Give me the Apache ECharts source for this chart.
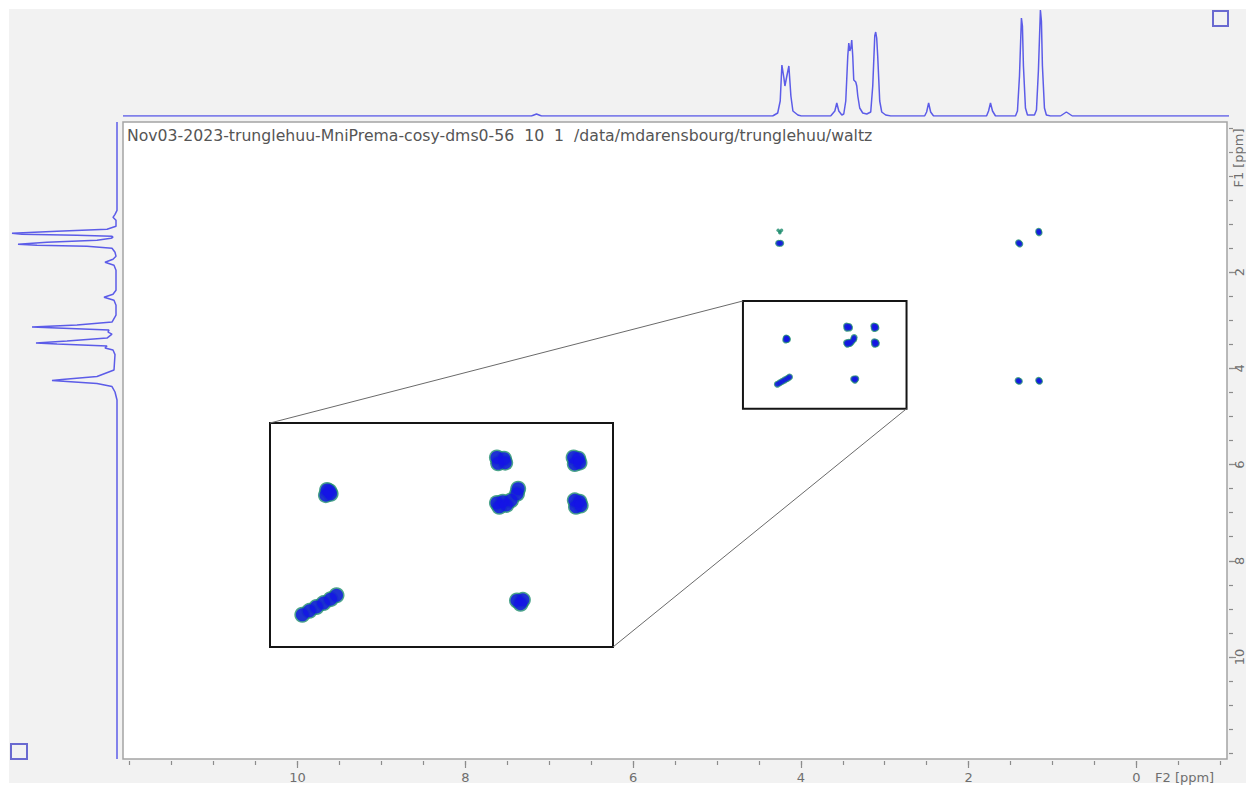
<!DOCTYPE html>
<html><head><meta charset="utf-8">
<script src="https://cdn.jsdelivr.net/npm/echarts@6/dist/echarts.min.js"></script>
<style>html,body{margin:0;padding:0;background:#fff;} #c{width:1246px;height:786px;}</style>
</head><body><div id="c"></div>
<script>
// ---------- data ----------
const titleText = 'Nov03-2023-trunglehuu-MniPrema-cosy-dms0-56  10  1  /data/mdarensbourg/trunglehuu/waltz';
const f2AxisName = 'F2 [ppm]';
const f1AxisName = 'F1 [ppm]';
const f2Range = [-1.08, 12.08];
const f1Range = [-1.12, 12.12];
const f2MajorTicks = [0, 2, 4, 6, 8, 10];
const f1MajorTicks = [2, 4, 6, 8, 10];
const minorTicks = [-1, -0.5, 0, 0.5, 1, 1.5, 2, 2.5, 3, 3.5, 4, 4.5, 5, 5.5, 6, 6.5, 7, 7.5, 8, 8.5, 9, 9.5, 10, 10.5, 11, 11.5, 12];

// F2 (top) projection: [ppm, intensity]
const f2Projection = [
  [12.08,0],[7.22,0],[7.16,2],[7.10,0],
  [4.35,0],[4.29,3],[4.26,15],[4.24,51],[4.216,38],[4.204,30],[4.181,40],[4.157,50],[4.133,20],[4.109,5],[4.05,1],[4.01,0],
  [3.66,0],[3.61,5],[3.587,13],[3.563,5],[3.527,1],
  [3.504,2],[3.48,15],[3.456,60],[3.444,73],[3.432,65],[3.42,68],[3.409,76],[3.397,60],[3.385,36],[3.361,34],[3.349,30],[3.337,20],[3.314,8],[3.278,3],[3.23,2],[3.183,4],[3.159,30],[3.135,80],[3.124,84],[3.112,78],[3.10,60],[3.076,15],[3.052,4],[3.005,1],[2.945,0],
  [2.542,0],[2.518,4],[2.494,13],[2.47,4],[2.435,0],
  [1.805,0],[1.781,5],[1.758,13],[1.734,5],[1.698,0],
  [1.461,0],[1.437,5],[1.413,40],[1.39,98],[1.378,90],[1.366,50],[1.342,8],[1.318,1],
  [1.235,1],[1.211,6],[1.188,45],[1.164,106],[1.152,95],[1.14,50],[1.116,8],[1.093,1],[1.045,0],
  [0.926,0],[0.855,4],[0.784,0],
  [-1.08,0]
];

// F1 (left) projection: [ppm, intensity]
const f1Projection = [
  [-1.12,0],[0.716,0],[0.799,2],[0.861,4],[0.923,1],[1.048,1],[1.11,10],[1.151,60],[1.193,105],[1.214,95],[1.234,40],[1.255,5],[1.276,4],[1.297,6],[1.338,20],[1.38,70],[1.421,99],[1.442,80],[1.463,30],[1.504,5],[1.587,2],[1.67,1],[1.732,4],[1.795,12],[1.857,3],[1.961,1],
  [2.376,1],[2.459,4],[2.521,13],[2.583,3],[2.687,1],[2.894,1],[3.039,5],[3.101,40],[3.143,85],[3.164,60],[3.205,8],[3.247,9],[3.288,5],[3.371,10],[3.434,50],[3.475,81],[3.496,60],[3.537,10],[3.579,12],[3.62,4],[3.714,2],
  [4.035,3],[4.17,20],[4.232,55],[4.253,65],[4.274,50],[4.315,20],[4.378,5],[4.492,2],[4.658,0],[12.12,0]
];

// COSY contour blobs: [F2 ppm, F1 ppm]
const crossPeaks = [
  [4.175,3.37],[4.16,3.40],[4.18,3.41],[4.165,3.38],
  [3.455,3.12],[3.425,3.13],[3.45,3.165],[3.42,3.16],
  [3.13,3.12],[3.11,3.13],[3.125,3.17],[3.105,3.16],
  [3.455,3.47],[3.43,3.46],[3.445,3.50],[3.415,3.485],[3.395,3.45],[3.37,3.40],[3.365,3.36],
  [3.125,3.45],[3.105,3.46],[3.12,3.50],[3.10,3.49],
  [4.28,4.33],[4.25,4.30],[4.22,4.27],[4.19,4.24],[4.16,4.21],[4.135,4.18],
  [3.37,4.22],[3.355,4.245],[3.345,4.215],
  [4.265,1.40],[4.24,1.40],
  [1.405,1.39],[1.39,1.415],
  [1.165,1.15],[1.16,1.18],
  [1.41,4.255],[1.395,4.27],
  [1.165,4.25],[1.155,4.27]
];
const weakPeaks = [[4.27,1.13],[4.25,1.16],[4.23,1.13],[4.25,1.18]];

// zoom region marked on the spectrum and the range shown in the inset
const zoomBoxF2 = [4.69, 2.74];
const zoomBoxF1 = [2.60, 4.84];
const insetF2 = [2.963, 4.417];
const insetF1 = [2.855, 4.578];

// ---------- chart ----------
const BLUE = '#1414e6', GREEN = '#1e8c6e', SPEC = '#5c5ce8';
const FONT = 'DejaVu Sans';
const chart = echarts.init(document.getElementById('c'), null, {renderer: 'svg', width: 1246, height: 786});

const hidden = {show: false};
const noLine = {show: false, onZero: false};
function hiddenAxis(grid, min, max, inverse) {
  return {gridIndex: grid, type: 'value', min: min, max: max, inverse: inverse, show: false, splitLine: hidden, axisLine: noLine};
}
const tickStyle = {color: '#8c8c8c', width: 1.2};

const option = {
  animation: false,
  backgroundColor: '#ffffff',
  grid: [
    {left: 123, top: 122, width: 1106, height: 637, show: true, backgroundColor: '#ffffff', borderColor: '#a4a4a4', borderWidth: 1.5},
    {left: 123, top: 10, width: 1106, height: 106, show: false},
    {left: 9, top: 122, width: 108, height: 637, show: false},
    {left: 270, top: 423, width: 343, height: 224, show: true, backgroundColor: '#ffffff', borderColor: '#151515', borderWidth: 2, z: 3}
  ],
  xAxis: [
    {gridIndex: 0, type: 'value', min: f2Range[0], max: f2Range[1], inverse: true, position: 'bottom', offset: 2,
      axisLine: noLine, splitLine: hidden, axisLabel: hidden,
      axisTick: {show: true, customValues: minorTicks, length: 4, lineStyle: tickStyle}},
    {gridIndex: 0, type: 'value', min: f2Range[0], max: f2Range[1], inverse: true, position: 'bottom', offset: 2,
      axisLine: noLine, splitLine: hidden,
      axisTick: {show: true, customValues: f2MajorTicks, length: 7, lineStyle: tickStyle},
      axisLabel: {show: true, customValues: f2MajorTicks, color: '#6e6e6e', fontSize: 13, fontFamily: FONT, margin: 10}},
    hiddenAxis(1, f2Range[0], f2Range[1], true),
    hiddenAxis(2, 0, 108, true),
    hiddenAxis(3, insetF2[0], insetF2[1], true)
  ],
  yAxis: [
    {gridIndex: 0, type: 'value', min: f1Range[0], max: f1Range[1], inverse: true, position: 'right', offset: 2,
      axisLine: noLine, splitLine: hidden, axisLabel: hidden,
      axisTick: {show: true, customValues: minorTicks, length: 4, lineStyle: tickStyle}},
    {gridIndex: 0, type: 'value', min: f1Range[0], max: f1Range[1], inverse: true, position: 'right', offset: 2,
      axisLine: noLine, splitLine: hidden,
      axisTick: {show: true, customValues: f1MajorTicks, length: 7, lineStyle: tickStyle},
      axisLabel: {show: true, customValues: f1MajorTicks, rotate: 90, color: '#6e6e6e', fontSize: 13, fontFamily: FONT, margin: 4}},
    hiddenAxis(1, 0, 106, false),
    hiddenAxis(2, f1Range[0], f1Range[1], true),
    hiddenAxis(3, insetF1[0], insetF1[1], true)
  ],
  series: [
    {type: 'line', xAxisIndex: 2, yAxisIndex: 2, data: f2Projection, showSymbol: false, symbol: 'none',
      lineStyle: {color: SPEC, width: 1.5}, silent: true},
    {type: 'line', xAxisIndex: 3, yAxisIndex: 3, data: f1Projection.map(p => [p[1], p[0]]), showSymbol: false, symbol: 'none',
      lineStyle: {color: SPEC, width: 1.5}, silent: true},
    {type: 'scatter', xAxisIndex: 0, yAxisIndex: 0, data: crossPeaks, symbol: 'circle', symbolSize: 7,
      itemStyle: {color: GREEN}, silent: true},
    {type: 'scatter', xAxisIndex: 0, yAxisIndex: 0, data: crossPeaks, symbol: 'circle', symbolSize: 5,
      itemStyle: {color: BLUE}, silent: true,
      markArea: {silent: true, itemStyle: {color: 'rgba(0,0,0,0)', borderColor: '#151515', borderWidth: 2},
        label: hidden,
        data: [[{coord: [zoomBoxF2[0], zoomBoxF1[0]]}, {coord: [zoomBoxF2[1], zoomBoxF1[1]]}]]}},
    {type: 'scatter', xAxisIndex: 0, yAxisIndex: 0, data: weakPeaks, symbol: 'circle', symbolSize: 3.5,
      itemStyle: {color: GREEN}, silent: true},
    {type: 'scatter', xAxisIndex: 4, yAxisIndex: 4, data: crossPeaks, symbol: 'circle', symbolSize: 16, clip: true,
      itemStyle: {color: GREEN}, silent: true, z: 4},
    {type: 'scatter', xAxisIndex: 4, yAxisIndex: 4, data: crossPeaks, symbol: 'circle', symbolSize: 13, clip: true,
      itemStyle: {color: BLUE}, silent: true, z: 5}
  ]
};
chart.setOption(option);

// Connector lines between the marked region and the inset, positioned through the axes
const boxTL = chart.convertToPixel({seriesIndex: 3}, [zoomBoxF2[0], zoomBoxF1[0]]);
const boxBR = chart.convertToPixel({seriesIndex: 3}, [zoomBoxF2[1], zoomBoxF1[1]]);
const insTL = chart.convertToPixel({seriesIndex: 6}, [insetF2[1], insetF1[0]]);
const insBR = chart.convertToPixel({seriesIndex: 6}, [insetF2[0], insetF1[1]]);

chart.setOption({
  graphic: {elements: [
    {id: 'bg', type: 'rect', z: -100, silent: true, shape: {x: 9, y: 9, width: 1237, height: 774}, style: {fill: '#f2f2f2'}},
    {id: 'title', type: 'text', z: 50, x: 127, y: 135, silent: true,
      style: {text: titleText, fill: '#555555', fontSize: 15.7, fontFamily: FONT, align: 'left', verticalAlign: 'middle'}},
    {id: 'f2name', type: 'text', z: 50, x: 1155, y: 777, silent: true,
      style: {text: f2AxisName, fill: '#6e6e6e', fontSize: 13, fontFamily: FONT, align: 'left', verticalAlign: 'middle'}},
    {id: 'f1name', type: 'text', z: 50, x: 1238, y: 158, rotation: Math.PI / 2, silent: true,
      style: {text: f1AxisName, fill: '#6e6e6e', fontSize: 13, fontFamily: FONT, align: 'center', verticalAlign: 'middle'}},
    {id: 'sq1', type: 'rect', z: 50, silent: true, shape: {x: 1213, y: 11, width: 15, height: 15}, style: {fill: 'none', stroke: '#6a6ad0', lineWidth: 2}},
    {id: 'sq2', type: 'rect', z: 50, silent: true, shape: {x: 11, y: 744, width: 16, height: 15}, style: {fill: 'none', stroke: '#6a6ad0', lineWidth: 2}},
    {id: 'conn1', type: 'line', z: 50, silent: true, shape: {x1: boxTL[0], y1: boxTL[1], x2: insTL[0], y2: insTL[1]}, style: {stroke: '#6a6a6a', lineWidth: 1}},
    {id: 'conn2', type: 'line', z: 50, silent: true, shape: {x1: boxBR[0], y1: boxBR[1], x2: insBR[0], y2: insBR[1]}, style: {stroke: '#6a6a6a', lineWidth: 1}}
  ]}
});
</script>
</body></html>
